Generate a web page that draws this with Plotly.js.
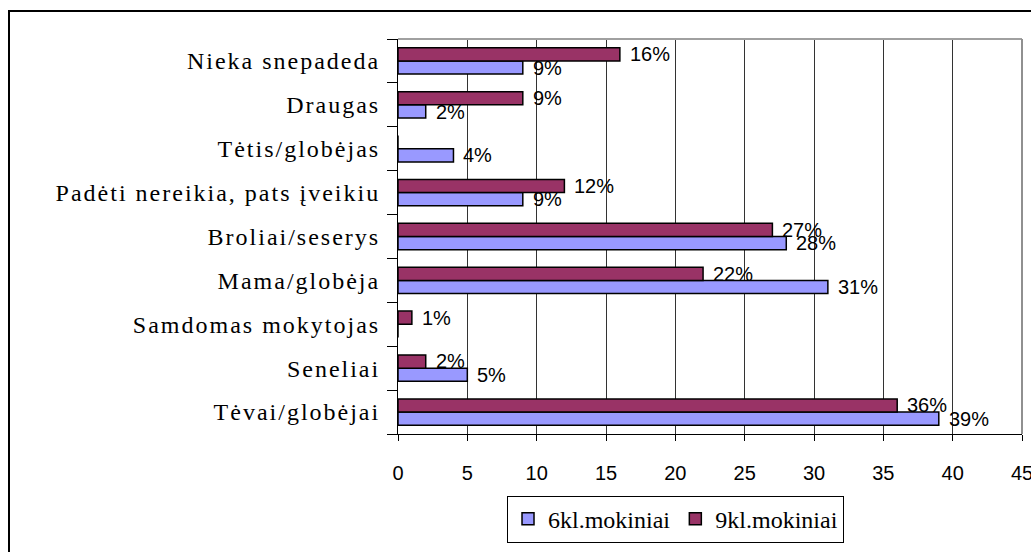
<!DOCTYPE html>
<html><head><meta charset="utf-8">
<script src="https://cdn.plot.ly/plotly-3.0.1.min.js"></script>
<style>
html,body{margin:0;padding:0;background:#fff;overflow:hidden}
#chart{position:absolute;left:0;top:0;width:1031px;height:552px}
#frame{position:absolute;left:8px;top:10px;width:1100px;height:600px;border:2px solid #000;pointer-events:none}
#chart .ytick text{letter-spacing:2px}
</style></head><body>
<div id="chart"></div><div id="frame"></div>
<script>
var categories = ['Tėvai/globėjai','Seneliai','Samdomas mokytojas','Mama/globėja','Broliai/seserys','Padėti nereikia, pats įveikiu','Tėtis/globėjas','Draugas','Nieka snepadeda'];
var series6 = [39,5,0,31,28,9,4,2,9];
var series9 = [36,2,1,22,27,12,0,9,16];
var seriesNames = ['6kl.mokiniai','9kl.mokiniai'];
var xTicks = [0,5,10,15,20,25,30,35,40,45];

var SERIF = 'Liberation Serif';
var SANS = 'Liberation Sans';

var traces = [
  {type:'bar', orientation:'h', name:seriesNames[0], y:categories, x:series6,
   marker:{color:'#9999FF', line:{color:'#000', width:1.5}}, hoverinfo:'x+y'},
  {type:'bar', orientation:'h', name:seriesNames[1], y:categories, x:series9,
   marker:{color:'#993366', line:{color:'#000', width:1.5}}, hoverinfo:'x+y'}
];

var annotations = [];
function addLabels(vals, shift){
  vals.forEach(function(v,i){
    if(v>0){
      annotations.push({x:v, y:categories[i], xref:'x', yref:'y', text:v+'%', showarrow:false,
        xanchor:'left', yanchor:'middle', xshift:8, yshift:shift,
        font:{family:SANS, size:20, color:'#000'}});
    }
  });
}
addLabels(series6, -6.75);
addLabels(series9, 6.75);

var layout = {
  width:1031, height:552,
  font:{family:SERIF, color:'#000'},
  margin:{l:398, r:9, t:39, b:109, pad:0},
  paper_bgcolor:'#fff', plot_bgcolor:'#fff',
  barmode:'group', bargap:0.4, bargroupgap:0,
  showlegend:true,
  legend:{orientation:'h', x:0.1747, xanchor:'left', y:-0.156, yanchor:'top',
    bordercolor:'#000', borderwidth:1, bgcolor:'#fff',
    font:{family:SERIF, size:24, color:'#000'}},
  xaxis:{range:[0,45], tickvals:xTicks, ticktext:xTicks.map(String), showgrid:true, gridcolor:'#333', gridwidth:1,
    zeroline:false, showline:true, linecolor:'#000', linewidth:1,
    ticks:'outside', ticklen:6, tickcolor:'#000', ticklabelstandoff:15, ticklabeloverflow:'allow',
    tickfont:{family:SANS, size:20, color:'#000'}, fixedrange:true},
  yaxis:{type:'category', categoryorder:'array', categoryarray:categories,
    showline:true, linecolor:'#000', linewidth:1, showgrid:false, zeroline:false,
    ticks:'outside', tickson:'boundaries', ticklen:10, tickcolor:'#000', ticklabelstandoff:12,
    tickfont:{family:SERIF, size:24, color:'#000'}, fixedrange:true},
  shapes:[
    {type:'line', xref:'paper', yref:'paper', x0:0, x1:1, y0:1, y1:1, line:{color:'#a0a0a0', width:2}},
    {type:'line', xref:'paper', yref:'paper', x0:1, x1:1, y0:0, y1:1, line:{color:'#909090', width:2}}
  ],
  annotations:annotations
};

Plotly.newPlot('chart', traces, layout, {displayModeBar:false, staticPlot:true});
</script>
</body></html>
